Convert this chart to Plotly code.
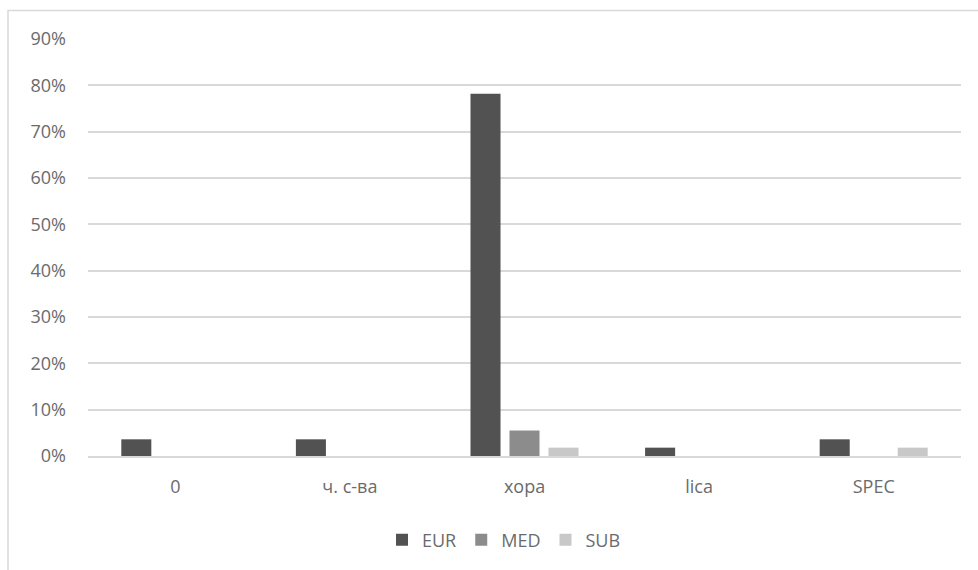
import plotly.graph_objects as go

categories = ["0", "ч. с-ва", "хора", "lica", "SPEC"]
eur = [0.036, 0.036, 0.782, 0.018, 0.036]
med = [0.0, 0.0, 0.055, 0.0, 0.0]
sub = [0.0, 0.0, 0.018, 0.0, 0.018]
series_names = ["EUR", "MED", "SUB"]
colors = ["#525252", "#8c8c8c", "#c8c8c8"]
y_ticks = [0, 0.1, 0.2, 0.3, 0.4, 0.5, 0.6, 0.7, 0.8, 0.9]

W, H = 978, 570
L, R, T, B = 88, 17, 39, 114
pw, ph = W - L - R, H - T - B

fig = go.Figure()
for name, vals, col in zip(series_names, [eur, med, sub], colors):
    fig.add_trace(go.Bar(x=categories, y=vals, name=name,
                         marker=dict(color=col, line=dict(width=0))))

font = dict(family="Open Sans, Liberation Sans, sans-serif", size=18, color="#6b6b6b")

def px_x(p):
    return (p - L) / pw

def px_y(p):
    return (H - B - p) / ph

fig.update_layout(
    width=W, height=H,
    margin=dict(l=L, r=R, t=T, b=B),
    paper_bgcolor="white", plot_bgcolor="white",
    barmode="group", bargap=0.33, bargroupgap=0.23,
    font=font,
    showlegend=True,
    legend=dict(orientation="h", xanchor="center", yanchor="middle",
                x=px_x(504), y=px_y(540), font=font,
                itemwidth=30, tracegroupgap=0, bgcolor="rgba(0,0,0,0)"),
    xaxis=dict(showgrid=False, showline=True, linecolor="#d9d9d9", linewidth=1.5,
               ticks="", tickfont=font, ticklabelstandoff=14),
    yaxis=dict(range=[0, 0.9], tickvals=y_ticks, tickformat=".0%",
               showgrid=True, gridcolor="#d9d9d9", gridwidth=1.5,
               zeroline=False, showline=False, ticks="",
               tickfont=font, ticklabelstandoff=21),
    shapes=[dict(type="rect", xref="paper", yref="paper",
                 x0=px_x(8), x1=px_x(1000), y0=px_y(600), y1=px_y(10.5),
                 line=dict(color="#d9d9d9", width=1.5), fillcolor="rgba(0,0,0,0)",
                 layer="below")],
)

fig.write_html("out.html", config={"displayModeBar": False},
               post_script="document.body.style.margin='0';document.body.style.overflow='hidden';")
